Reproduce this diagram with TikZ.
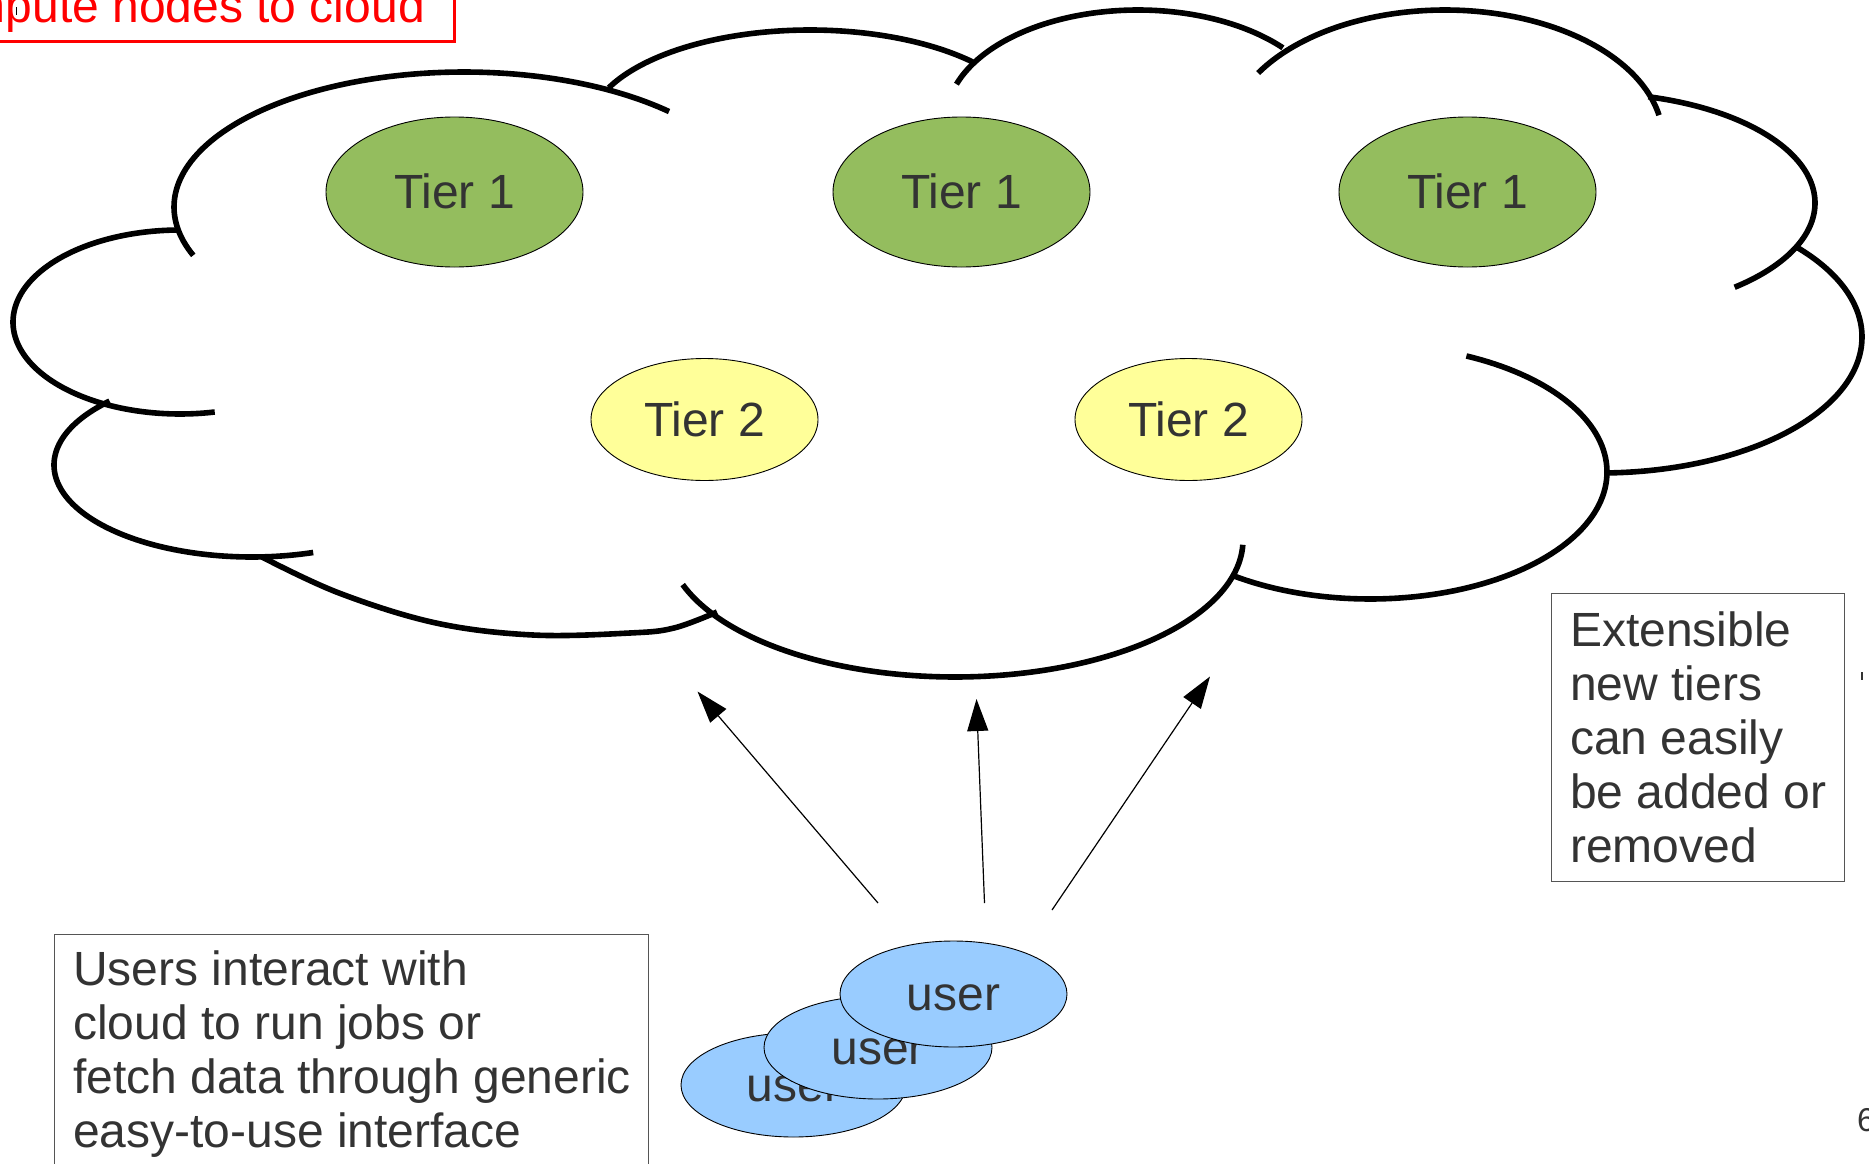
\documentclass[tikz,border=0pt]{standalone}
\usepackage{fontspec}
\setmainfont{Liberation Sans}
\usetikzlibrary{shapes.geometric, arrows.meta}

\definecolor{tiergreen}{RGB}{148,189,94}
\definecolor{tieryellow}{RGB}{255,255,153}
\definecolor{userblue}{RGB}{153,204,255}
\definecolor{inktext}{RGB}{51,51,51}
\definecolor{boxgray}{RGB}{85,85,85}

\begin{document}
\begin{tikzpicture}[x=1pt, y=-1pt,
  cloudline/.style={line width=5.6pt},
  bubble/.style={ellipse, draw=black, line width=0.9pt, inner sep=0pt, text=inktext,
    font=\fontsize{48}{54}\selectfont, text height=43.4pt, text depth=10.2pt},
  tierone/.style={bubble, fill=tiergreen, minimum width=257pt, minimum height=150pt},
  tiertwo/.style={bubble, fill=tieryellow, minimum width=227pt, minimum height=122pt},
  userbubble/.style={bubble, fill=userblue, minimum width=227pt, minimum height=105pt},
  notebox/.style={draw=boxgray, line width=1.3pt, inner sep=0pt, anchor=north west},
  notetext/.style={inner sep=0pt, anchor=north west, align=left, text=inktext,
    font=\fontsize{48}{54}\selectfont},
  reach/.style={line width=1.2pt, -{Triangle[length=32pt, width=21pt]}},
]
\useasboundingbox (0,0) rectangle (1869,1164);
\fill[white] (0,0) rectangle (1869,1164);
\clip (0,0) rectangle (1869,1164);

% heading box, cut by the page edge
\draw[red, line width=3pt] (-20,-20) rectangle (454.4,41.7);
\node[anchor=base east, inner sep=0pt, text=red, font=\fontsize{48}{54}\selectfont]
  (headline) at (425,22.7) {compute nodes to cloud};
\fill[black] (16,7) rectangle (17.3,15);

% cloud outline, one lobe at a time
\draw[cloudline] plot[domain=159:315, samples=100] ({464+290*cos(\x)}, {207+135*sin(\x)});
\draw[cloudline] plot[domain=205:317, samples=100] ({810+222*cos(\x)}, {130+100*sin(\x)});
\draw[cloudline] plot[domain=199:319, samples=100] ({1138+192*cos(\x)}, {120+110*sin(\x)});
\draw[cloudline] plot[domain=211:349, samples=100] ({1445+218*cos(\x)}, {140+130*sin(\x)});
\draw[cloudline] plot[domain=285:410, samples=100] ({1590+225*cos(\x)}, {203+110*sin(\x)});
\draw[cloudline] plot[domain=318.6:448, samples=100] ({1600+262*cos(\x)}, {337+136*sin(\x)});
\draw[cloudline] plot[domain=294:485, samples=100] ({1370+237*cos(\x)}, {472+127*sin(\x)});
\draw[cloudline] plot[domain=2:161, samples=100] ({955+288*cos(\x)}, {540+137*sin(\x)});
\draw[cloudline] plot[smooth, tension=0.6] coordinates
  {(262,557) (339,593) (436,623) (533,635) (630,633) (674,628) (717,612)};
\draw[cloudline] plot[domain=72:224, samples=100] ({252+198*cos(\x)}, {465+92*sin(\x)});
\draw[cloudline] plot[domain=78:270, samples=100] ({180+167*cos(\x)}, {322+92*sin(\x)});

% tiers inside the cloud
\node[tierone] (t1a) at (454.5,192) {Tier 1};
\node[tierone] (t1b) at (961.5,192) {Tier 1};
\node[tierone] (t1c) at (1467.5,192) {Tier 1};
\node[tiertwo] (t2a) at (704.5,419.5) {Tier 2};
\node[tiertwo] (t2b) at (1188.5,419.5) {Tier 2};

% stack of users
\node[userbubble, minimum width=225pt, minimum height=104pt] (u3) at (793.5,1085) {user};
\node[userbubble, minimum width=228pt, minimum height=103pt] (u2) at (878,1047.5) {user};
\node[userbubble, minimum width=227pt, minimum height=106pt] (u1) at (953.5,994) {user};

% requests going up to the cloud
\coordinate (a1s) at (878,903);   \coordinate (a1e) at (697.5,691.5);
\coordinate (a2s) at (984.5,903); \coordinate (a2e) at (976.5,699);
\coordinate (a3s) at (1052,910);  \coordinate (a3e) at (1210,676.5);
\draw[reach] (a1s) -- (a1e);
\draw[reach] (a2s) -- (a2e);
\draw[reach] (a3s) -- (a3e);

% note boxes
\node[notebox, minimum width=594pt, minimum height=300pt] (usersbox) at (54,934) {};
\node[notetext] (userstext) at (73,947.2)
  {\strut Users interact with\\cloud to run jobs or\\fetch data through generic\\easy-to-use interface};

\node[notebox, minimum width=293pt, minimum height=288.3pt] (tiersbox) at (1551,592.7) {};
\node[notetext] (tierstext) at (1570,608)
  {\strut Extensible\\new tiers\\can easily\\be added or\\removed};

% marks at the right edge
\fill[inktext] (1861,672) rectangle (1863,680);
\node[anchor=base west, inner sep=0pt, text=inktext, font=\fontsize{33}{38}\selectfont]
  (pageno) at (1857,1131) {6};
\end{tikzpicture}
\end{document}
